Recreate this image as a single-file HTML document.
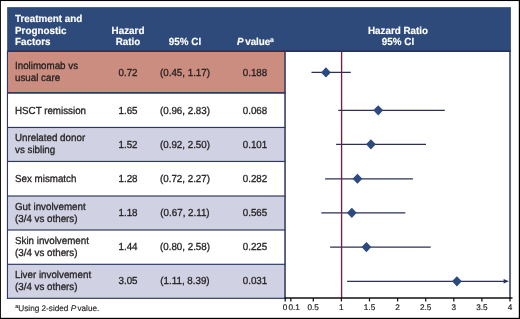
<!DOCTYPE html>
<html><head><meta charset="utf-8">
<style>
html,body{margin:0;padding:0;background:#fff;}
body{text-rendering:geometricPrecision;width:520px;height:319px;position:relative;overflow:hidden;font-family:"Liberation Sans",sans-serif;color:#231f20;}
#w{position:absolute;left:0;top:0;width:520px;height:319px;will-change:transform;}
.abs{position:absolute;}
.ht{-webkit-text-stroke:0.15px #fff;color:#fff;font-weight:bold;font-size:10.3px;line-height:12px;height:12px;white-space:nowrap;transform:scaleX(0.956);transform-origin:0 0;}
.bt{-webkit-text-stroke:0.3px #231f20;font-size:10.2px;line-height:12px;height:12px;white-space:nowrap;transform:scaleX(0.96);transform-origin:0 0;}
.c{text-align:center;transform-origin:50% 0 !important;}
.tk{-webkit-text-stroke:0.2px #231f20;font-size:8.2px;line-height:8px;white-space:nowrap;text-align:center;width:20px;margin-left:-10px;top:304.4px;color:#231f20;}
</style></head><body><div id="w">

<svg class="abs" style="left:0;top:0;" width="520" height="319" viewBox="0 0 520 319">
<rect x="7.47" width="277.6" y="51.5" height="41.40" fill="#cb8d7f"/>
<rect x="7.47" width="277.6" y="127.45" height="34.00" fill="#d0d2e3"/>
<rect x="7.47" width="277.6" y="196" height="34.00" fill="#d0d2e3"/>
<rect x="7.47" width="277.6" y="264.3" height="34.00" fill="#d0d2e3"/>
<rect x="7.15" y="7.15" width="503.75" height="44" fill="#2e4a7b"/><rect x="7.15" y="50.3" width="503.75" height="1.7" fill="#26335f"/>
<rect x="7" width="278.5" y="92.05" height="1.7" fill="#2c3660"/>
<rect x="7" width="278.5" y="126.88" height="1.15" fill="#2c3660"/>
<rect x="7" width="278.5" y="160.88" height="1.15" fill="#2c3660"/>
<rect x="7" width="278.5" y="195.43" height="1.15" fill="#2c3660"/>
<rect x="7" width="278.5" y="229.43" height="1.15" fill="#2c3660"/>
<rect x="7" width="278.5" y="263.73" height="1.15" fill="#2c3660"/>
<rect x="7" width="278.5" y="297.73" height="1.15" fill="#2c3660"/>
<rect y="51" height="247.90" x="6.92" width="1.1" fill="#2c3660"/>
<rect y="51" height="247.90" x="284.29" width="1.5" fill="#2c3660"/>
<rect y="51" height="247.90" x="509.25" width="1.5" fill="#2c3660"/>
<rect x="0" y="0" width="520" height="1.05" fill="#000"/><rect x="0" y="317.8" width="520" height="1.2" fill="#000"/><rect x="0" y="0" width="0.9" height="319" fill="#000"/><rect x="518.8" y="0" width="1.2" height="319" fill="#000"/>
</svg>
<div class="abs ht" style="left:15px;top:14px;">Treatment and</div>
<div class="abs ht" style="left:15px;top:26px;">Prognostic</div>
<div class="abs ht" style="left:15px;top:37px;">Factors</div>
<div class="abs ht c" style="left:78px;width:100px;top:26px;">Hazard</div>
<div class="abs ht c" style="left:78px;width:100px;top:37px;">Ratio</div>
<div class="abs ht c" style="left:134.6px;width:100px;top:37px;">95% CI</div>
<div class="abs ht" style="left:236.5px;top:37px;"><i>P</i><span style="letter-spacing:-1.2px;"> </span>value<span style="font-size:7px;position:relative;top:-3.3px;left:-0.4px;">a</span></div>
<div class="abs ht c" style="left:348px;width:100px;top:26px;">Hazard Ratio</div>
<div class="abs ht c" style="left:348px;width:100px;top:37px;">95% CI</div>
<div class="abs bt" style="left:15px;top:61px;">Inolimomab vs</div>
<div class="abs bt" style="left:15px;top:73px;">usual care</div>
<div class="abs bt c" style="left:78px;width:100px;top:68px;">0.72</div>
<div class="abs bt c" style="left:134.8px;width:100px;top:68px;">(0.45, 1.17)</div>
<div class="abs bt c" style="left:205.4px;width:100px;top:68px;">0.188</div>
<div class="abs bt" style="left:15px;top:106px;">HSCT remission</div>
<div class="abs bt c" style="left:78px;width:100px;top:106px;">1.65</div>
<div class="abs bt c" style="left:134.8px;width:100px;top:106px;">(0.96, 2.83)</div>
<div class="abs bt c" style="left:205.4px;width:100px;top:106px;">0.068</div>
<div class="abs bt" style="left:15px;top:133px;">Unrelated donor</div>
<div class="abs bt" style="left:15px;top:145px;">vs sibling</div>
<div class="abs bt c" style="left:78px;width:100px;top:140px;">1.52</div>
<div class="abs bt c" style="left:134.8px;width:100px;top:140px;">(0.92, 2.50)</div>
<div class="abs bt c" style="left:205.4px;width:100px;top:140px;">0.101</div>
<div class="abs bt" style="left:15px;top:174px;">Sex mismatch</div>
<div class="abs bt c" style="left:78px;width:100px;top:174px;">1.28</div>
<div class="abs bt c" style="left:134.8px;width:100px;top:174px;">(0.72, 2.27)</div>
<div class="abs bt c" style="left:205.4px;width:100px;top:174px;">0.282</div>
<div class="abs bt" style="left:15px;top:202px;">Gut involvement</div>
<div class="abs bt" style="left:15px;top:214px;">(3/4 vs others)</div>
<div class="abs bt c" style="left:78px;width:100px;top:208px;">1.18</div>
<div class="abs bt c" style="left:134.8px;width:100px;top:208px;">(0.67, 2.11)</div>
<div class="abs bt c" style="left:205.4px;width:100px;top:208px;">0.565</div>
<div class="abs bt" style="left:15px;top:236px;">Skin involvement</div>
<div class="abs bt" style="left:15px;top:248px;">(3/4 vs others)</div>
<div class="abs bt c" style="left:78px;width:100px;top:242px;">1.44</div>
<div class="abs bt c" style="left:134.8px;width:100px;top:242px;">(0.80, 2.58)</div>
<div class="abs bt c" style="left:205.4px;width:100px;top:242px;">0.225</div>
<div class="abs bt" style="left:15px;top:270px;">Liver involvement</div>
<div class="abs bt" style="left:15px;top:282px;">(3/4 vs others)</div>
<div class="abs bt c" style="left:78px;width:100px;top:276px;">3.05</div>
<div class="abs bt c" style="left:134.8px;width:100px;top:276px;">(1.11, 8.39)</div>
<div class="abs bt c" style="left:205.4px;width:100px;top:276px;">0.031</div>
<div class="abs" style="left:15.3px;top:304px;font-size:8.2px;line-height:10px;white-space:nowrap;-webkit-text-stroke:0.15px #231f20;"><span style="font-size:5.5px;position:relative;top:-2.6px;">a</span>Using 2-sided <i>P</i><span style="letter-spacing:-1px;"> </span>value.</div>
<svg class="abs" style="left:0;top:0;" width="520" height="319" viewBox="0 0 520 319">
 <g stroke="#2b3154" stroke-width="1.25" fill="#2b3154">
  <line x1="311.5" y1="72.45" x2="350.8" y2="72.45"/>
  <line x1="338.3" y1="110.35" x2="444.8" y2="110.35"/>
  <line x1="336.1" y1="144.35" x2="426.0" y2="144.35"/>
  <line x1="325.1" y1="178.75" x2="412.9" y2="178.75"/>
  <line x1="321.3" y1="212.8" x2="405.3" y2="212.8"/>
  <line x1="330.1" y1="247.1" x2="430.7" y2="247.1"/>
  <line x1="347.1" y1="281.3" x2="505" y2="281.3"/>
  <path d="M503.6 279.1 L508.9 281.3 L503.6 283.5 Z" stroke="none"/>
 </g>
 <line x1="341.6" y1="52" x2="341.6" y2="298" stroke="#8a1238" stroke-width="1.3"/>
 <g fill="#2b4a7f">
  <path d="M321.06 72.45 l4.9 -5.1 l4.9 5.1 l-4.9 5.1z"/>
  <path d="M373.33 110.35 l4.9 -5.1 l4.9 5.1 l-4.9 5.1z"/>
  <path d="M366.02 144.35 l4.9 -5.1 l4.9 5.1 l-4.9 5.1z"/>
  <path d="M352.54 178.75 l4.9 -5.1 l4.9 5.1 l-4.9 5.1z"/>
  <path d="M346.92 212.8 l4.9 -5.1 l4.9 5.1 l-4.9 5.1z"/>
  <path d="M361.53 247.1 l4.9 -5.1 l4.9 5.1 l-4.9 5.1z"/>
  <path d="M452.01 281.3 l4.9 -5.1 l4.9 5.1 l-4.9 5.1z"/>
 </g>
 <g stroke="#111" stroke-width="1.5">
  <line x1="284.5" y1="298.1" x2="512.5" y2="298.1"/>
  <line x1="285.20" y1="298" x2="285.20" y2="301.4" stroke-width="1.25"/>
  <line x1="290.82" y1="298" x2="290.82" y2="301.4" stroke-width="1.25"/>
  <line x1="313.30" y1="298" x2="313.30" y2="301.4" stroke-width="1.25"/>
  <line x1="341.40" y1="298" x2="341.40" y2="301.4" stroke-width="1.25"/>
  <line x1="369.50" y1="298" x2="369.50" y2="301.4" stroke-width="1.25"/>
  <line x1="397.60" y1="298" x2="397.60" y2="301.4" stroke-width="1.25"/>
  <line x1="425.70" y1="298" x2="425.70" y2="301.4" stroke-width="1.25"/>
  <line x1="453.80" y1="298" x2="453.80" y2="301.4" stroke-width="1.25"/>
  <line x1="481.90" y1="298" x2="481.90" y2="301.4" stroke-width="1.25"/>
  <line x1="510.00" y1="298" x2="510.00" y2="301.4" stroke-width="1.25"/>
 </g>
</svg>
<div class="abs tk" style="left:285px;">0</div>
<div class="abs tk" style="left:294.2px;">0.1</div>
<div class="abs tk" style="left:313.2px;">0.5</div>
<div class="abs tk" style="left:341.4px;">1</div>
<div class="abs tk" style="left:369.5px;">1.5</div>
<div class="abs tk" style="left:397.59999999999997px;">2</div>
<div class="abs tk" style="left:425.7px;">2.5</div>
<div class="abs tk" style="left:453.8px;">3</div>
<div class="abs tk" style="left:481.9px;">3.5</div>
<div class="abs tk" style="left:510.0px;">4</div>
</div></body></html>
